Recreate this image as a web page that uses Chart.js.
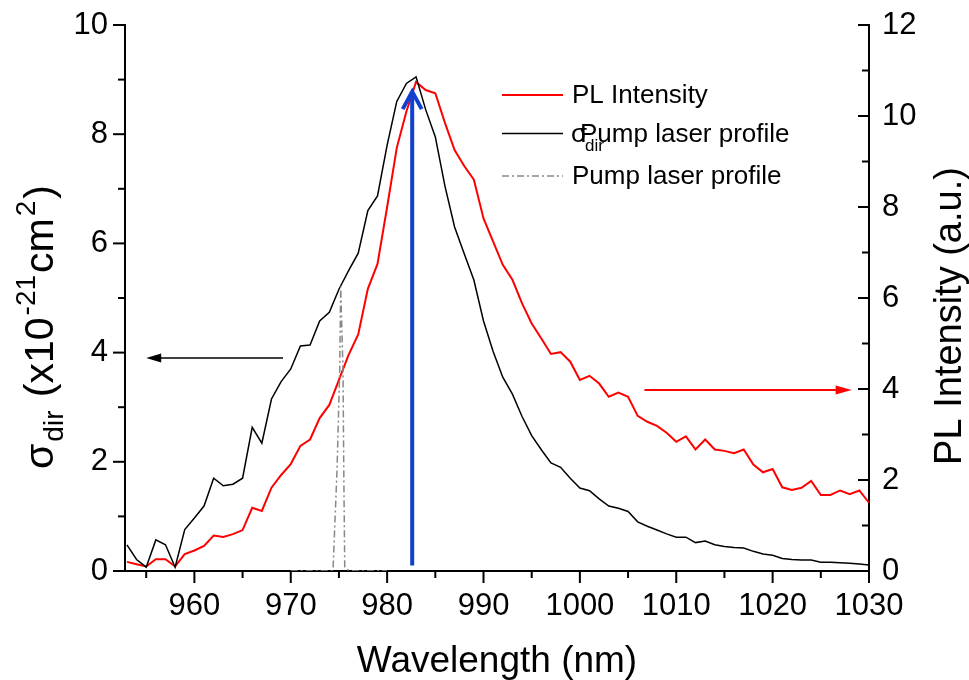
<!DOCTYPE html>
<html><head><meta charset="utf-8">
<script src="https://cdn.jsdelivr.net/npm/chart.js@4.4.0/dist/chart.umd.min.js"></script>
<style>html,body{margin:0;padding:0;background:#fff;}canvas{display:block;}</style>
</head><body>
<canvas id="c" width="969" height="680"></canvas>
<script>
// ---------- data ----------
const wavelength = [953,954,955,956,957,958,959,960,961,962,963,964,965,966,967,968,969,970,971,972,973,974,975,976,977,978,979,980,981,982,983,984,985,986,987,988,989,990,991,992,993,994,995,996,997,998,999,1000,1001,1002,1003,1004,1005,1006,1007,1008,1009,1010,1011,1012,1013,1014,1015,1016,1017,1018,1019,1020,1021,1022,1023,1024,1025,1026,1027,1028,1029,1030];
const sigmaDir = [0.48,0.21,0.07,0.57,0.48,0.07,0.76,0.97,1.19,1.70,1.56,1.59,1.70,2.63,2.34,3.15,3.47,3.70,4.12,4.14,4.58,4.74,5.16,5.50,5.82,6.60,6.87,7.80,8.60,8.93,9.05,8.45,7.95,7.05,6.30,5.81,5.33,4.58,4.02,3.55,3.24,2.83,2.48,2.22,1.98,1.90,1.70,1.52,1.47,1.32,1.19,1.15,1.09,0.90,0.82,0.75,0.68,0.62,0.62,0.52,0.55,0.48,0.45,0.43,0.42,0.36,0.31,0.29,0.23,0.21,0.20,0.20,0.16,0.16,0.15,0.14,0.13,0.11];
const plIntensity = [0.20,0.15,0.10,0.26,0.26,0.10,0.37,0.45,0.55,0.78,0.75,0.81,0.90,1.39,1.32,1.83,2.11,2.35,2.75,2.89,3.36,3.65,4.20,4.75,5.20,6.20,6.75,8.00,9.30,10.10,10.75,10.57,10.50,9.85,9.25,8.90,8.60,7.75,7.24,6.73,6.40,5.88,5.44,5.11,4.77,4.81,4.60,4.20,4.29,4.12,3.83,3.92,3.83,3.41,3.28,3.19,3.04,2.84,2.96,2.67,2.89,2.67,2.64,2.59,2.67,2.34,2.17,2.24,1.84,1.78,1.83,1.98,1.67,1.67,1.77,1.69,1.77,1.50];
const pumpWavelength = [970,972,974,974.3,974.4,974.8,975.08,975.18,975.42,975.5,975.6,975.95,976.5,978,980];
const pumpProfile = [0,0,0,0,0.08,1.85,3.68,5.21,3.68,1.85,0.08,0.02,0,0,0];

const xTickValues = [955,960,965,970,975,980,985,990,995,1000,1005,1010,1015,1020,1025,1030];
const leftTickValues = [0,1,2,3,4,5,6,7,8,9,10];
const rightTickValues = [0,1,2,3,4,5,6,7,8,9,10,11,12];
const legendLabels = ['PL Intensity','Pump laser profile','Pump laser profile'];

// annotation arrows (in data units)
const blackArrowX = [969.2, 955.0], blackArrowY = 3.9;      // left axis
const redArrowX = [1006.7, 1028.2], redArrowY = 3.98;        // right axis
const blueArrowX = 982.6, blueArrowY = [0.1, 8.78];          // left axis

// ---------- chart ----------
const FONT = '"Liberation Sans", Arial, Helvetica, sans-serif';
Chart.defaults.font.family = FONT;
Chart.defaults.color = '#000';

const toPts = (xs, ys) => xs.map((x, i) => ({x, y: ys[i]}));

function arrowHead(ctx, tipX, tipY, dirX, dirY, len, half) {
  const nx = -dirY, ny = dirX;
  const bx = tipX - dirX * len, by = tipY - dirY * len;
  ctx.beginPath();
  ctx.moveTo(tipX, tipY);
  ctx.lineTo(bx + nx * half, by + ny * half);
  ctx.lineTo(bx - nx * half, by - ny * half);
  ctx.closePath();
  ctx.fill();
}

const decorPlugin = {
  id: 'decor',
  afterDatasetsDraw(chart) {
    const ctx = chart.ctx, xs = chart.scales.x, yl = chart.scales.y, yr = chart.scales.yR;
    ctx.save();
    let y = yl.getPixelForValue(blackArrowY);
    let x0 = xs.getPixelForValue(blackArrowX[0]), x1 = xs.getPixelForValue(blackArrowX[1]);
    ctx.strokeStyle = '#000'; ctx.fillStyle = '#000'; ctx.lineWidth = 1.5;
    ctx.beginPath(); ctx.moveTo(x0, y); ctx.lineTo(x1 + 12, y); ctx.stroke();
    arrowHead(ctx, x1, y, -1, 0, 15, 4.5);
    y = yr.getPixelForValue(redArrowY);
    x0 = xs.getPixelForValue(redArrowX[0]); x1 = xs.getPixelForValue(redArrowX[1]);
    ctx.strokeStyle = '#ff0000'; ctx.fillStyle = '#ff0000'; ctx.lineWidth = 2;
    ctx.beginPath(); ctx.moveTo(x0, y); ctx.lineTo(x1 - 12, y); ctx.stroke();
    arrowHead(ctx, x1, y, 1, 0, 16, 4.5);
    const bx = xs.getPixelForValue(blueArrowX);
    const by0 = yl.getPixelForValue(blueArrowY[0]), by1 = yl.getPixelForValue(blueArrowY[1]);
    ctx.strokeStyle = '#1040d0'; ctx.lineWidth = 4; ctx.lineCap = 'butt'; ctx.lineJoin = 'miter';
    ctx.beginPath(); ctx.moveTo(bx, by0); ctx.lineTo(bx, by1 + 2); ctx.stroke();
    ctx.beginPath(); ctx.moveTo(bx - 9.5, by1 + 17.5); ctx.lineTo(bx, by1); ctx.lineTo(bx + 9.5, by1 + 17.5); ctx.stroke();
    ctx.restore();
  },
  afterDraw(chart) {
    const ctx = chart.ctx, xs = chart.scales.x, yl = chart.scales.y, yr = chart.scales.yR;
    const area = chart.chartArea;
    ctx.save();
    ctx.strokeStyle = '#000'; ctx.lineWidth = 2; ctx.lineCap = 'butt';
    xTickValues.forEach(v => {
      const p = xs.getPixelForValue(v), len = v % 10 === 0 ? 12 : 7;
      ctx.beginPath(); ctx.moveTo(p, area.bottom); ctx.lineTo(p, area.bottom + len); ctx.stroke();
    });
    leftTickValues.forEach(v => {
      const p = yl.getPixelForValue(v), len = v % 2 === 0 ? 12 : 7;
      ctx.beginPath(); ctx.moveTo(area.left, p); ctx.lineTo(area.left - len, p); ctx.stroke();
    });
    rightTickValues.forEach(v => {
      const p = yr.getPixelForValue(v), len = v % 2 === 0 ? 11 : 7;
      ctx.beginPath(); ctx.moveTo(area.right, p); ctx.lineTo(area.right - len, p); ctx.stroke();
    });

    ctx.fillStyle = '#000';
    ctx.font = '37px ' + FONT; ctx.textAlign = 'center'; ctx.textBaseline = 'alphabetic';
    ctx.fillText('Wavelength (nm)', (area.left + area.right) / 2, 672);
    ctx.save();
    ctx.translate(961, 316); ctx.rotate(-Math.PI / 2);
    ctx.font = '38px ' + FONT; ctx.textAlign = 'center';
    ctx.fillText('PL Intensity (a.u.)', 0, 0);
    ctx.restore();
    const big = '41px ' + FONT, small = '28px ' + FONT;
    const parts = [
      {t: 'σ', f: big, v: 0},
      {t: 'dir', f: small, v: 10},
      {t: ' (x10', f: big, v: 0},
      {t: '-21', f: small, v: -18},
      {t: 'cm', f: big, v: 0},
      {t: '2', f: small, v: -18},
      {t: ')', f: big, v: 0}
    ];
    const gap = 2;
    let total = 0;
    parts.forEach(p => { ctx.font = p.f; p.w = ctx.measureText(p.t).width + gap; total += p.w; });
    ctx.save();
    ctx.translate(53, 326); ctx.rotate(-Math.PI / 2);
    ctx.textAlign = 'left';
    let u = -total / 2;
    parts.forEach(p => { ctx.font = p.f; ctx.fillText(p.t, u, p.v); u += p.w; });
    ctx.restore();

    ctx.font = '26px ' + FONT; ctx.textAlign = 'left'; ctx.textBaseline = 'middle';
    const rows = [95, 133.5, 176];
    const lx0 = 502, lx1 = 563;
    ctx.strokeStyle = '#ff0000'; ctx.lineWidth = 2;
    ctx.beginPath(); ctx.moveTo(lx0, rows[0]); ctx.lineTo(lx1, rows[0]); ctx.stroke();
    ctx.fillText(legendLabels[0], 572, rows[0] + 1);
    ctx.strokeStyle = '#000'; ctx.lineWidth = 1.5;
    ctx.beginPath(); ctx.moveTo(lx0, rows[1]); ctx.lineTo(lx1, rows[1]); ctx.stroke();
    ctx.fillText('σ', 571, rows[1] + 1);
    ctx.font = '17px ' + FONT;
    ctx.fillText('dir', 585, rows[1] + 13);
    ctx.font = '26px ' + FONT;
    ctx.fillText(legendLabels[1], 580, rows[1] + 1);
    ctx.strokeStyle = '#888'; ctx.lineWidth = 1.5; ctx.setLineDash([7, 3, 2, 3]);
    ctx.beginPath(); ctx.moveTo(lx0, rows[2]); ctx.lineTo(lx1, rows[2]); ctx.stroke();
    ctx.setLineDash([]);
    ctx.fillText(legendLabels[2], 572, rows[2] + 1);
    ctx.restore();
  }
};

new Chart(document.getElementById('c'), {
  type: 'line',
  data: {
    datasets: [
      {label: 'Pump laser profile', data: toPts(pumpWavelength, pumpProfile), yAxisID: 'y',
       borderColor: '#888', borderWidth: 1.5, borderDash: [7, 3, 2, 3], pointRadius: 0, tension: 0, fill: false},
      {label: 'σdir', data: toPts(wavelength, sigmaDir), yAxisID: 'y',
       borderColor: '#000', borderWidth: 1.5, pointRadius: 0, tension: 0, fill: false},
      {label: 'PL Intensity', data: toPts(wavelength, plIntensity), yAxisID: 'yR',
       borderColor: '#ff0000', borderWidth: 2, pointRadius: 0, tension: 0, fill: false}
    ]
  },
  options: {
    responsive: false, animation: false,
    layout: {padding: {top: 25, left: 0, right: 0, bottom: 0}},
    plugins: {legend: {display: false}, tooltip: {enabled: false}},
    scales: {
      x: {
        type: 'linear', min: 952.8, max: 1030,
        afterBuildTicks: s => { s.ticks = xTickValues.map(v => ({value: v})); },
        afterFit: s => { s.height = 109; s.paddingLeft = 0; s.paddingRight = 0; },
        ticks: {autoSkip: false, maxRotation: 0, font: {size: 31}, color: '#000', padding: 17,
                callback: v => (v % 10 === 0 ? String(v) : '')},
        grid: {display: false, drawTicks: false},
        border: {display: true, color: '#000', width: 2}
      },
      y: {
        type: 'linear', position: 'left', min: 0, max: 10,
        afterBuildTicks: s => { s.ticks = leftTickValues.map(v => ({value: v})); },
        afterFit: s => { s.width = 125; s.paddingTop = 0; s.paddingBottom = 0; },
        ticks: {autoSkip: false, font: {size: 31}, color: '#000', padding: 17,
                callback: v => (v % 2 === 0 ? String(v) : '')},
        grid: {display: false, drawTicks: false},
        border: {display: true, color: '#000', width: 2}
      },
      yR: {
        type: 'linear', position: 'right', min: 0, max: 12,
        afterBuildTicks: s => { s.ticks = rightTickValues.map(v => ({value: v})); },
        afterFit: s => { s.width = 100; s.paddingTop = 0; s.paddingBottom = 0; },
        ticks: {autoSkip: false, font: {size: 31}, color: '#000', padding: 13,
                callback: v => (v % 2 === 0 ? String(v) : '')},
        grid: {display: false, drawTicks: false},
        border: {display: true, color: '#000', width: 2}
      }
    }
  },
  plugins: [decorPlugin]
});
</script>
</body></html>
